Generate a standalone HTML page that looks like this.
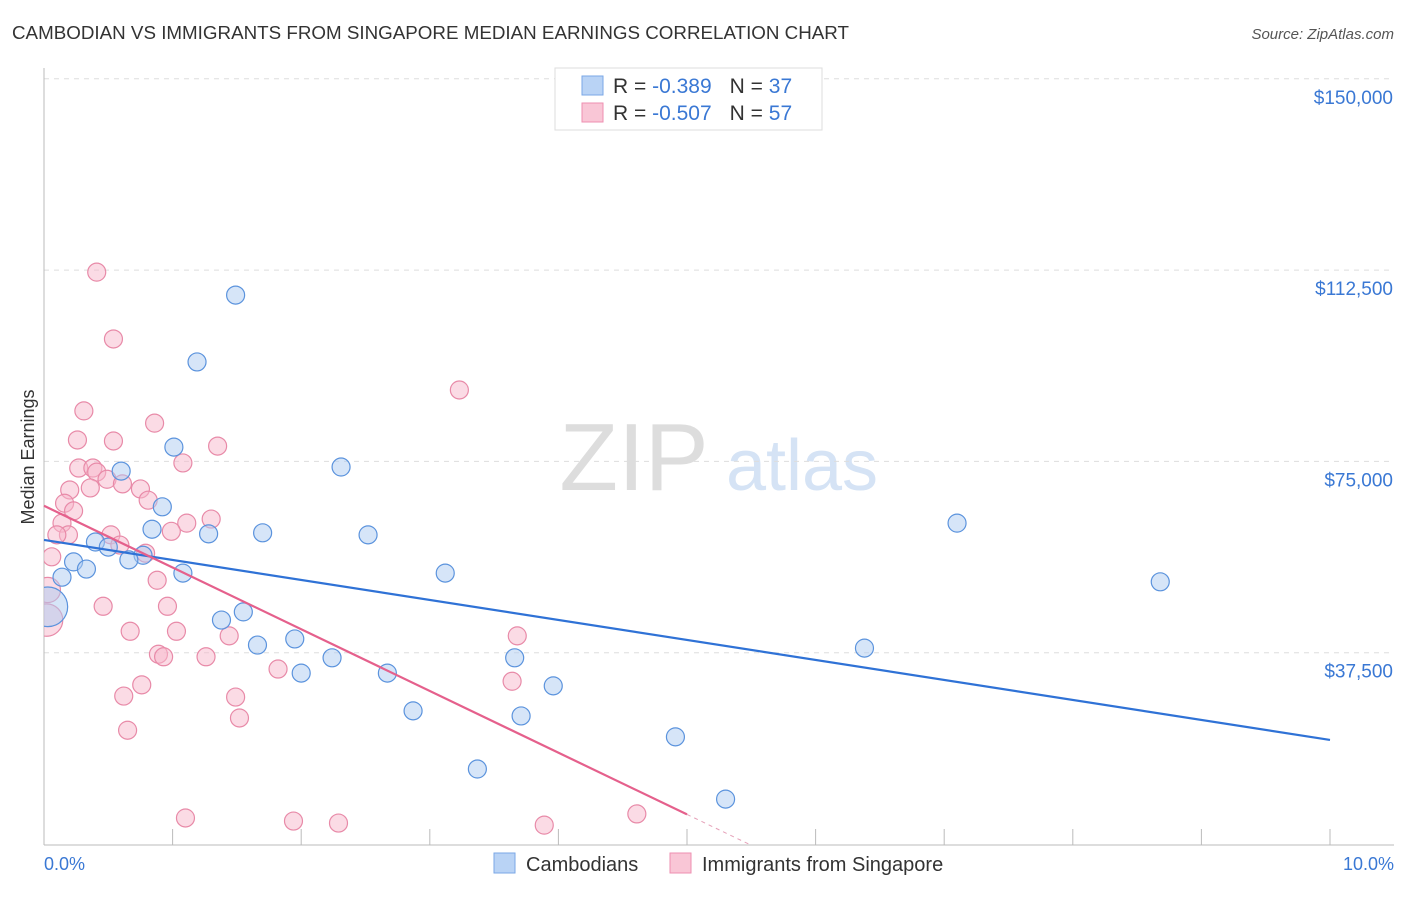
<!DOCTYPE html>
<html><head><meta charset="utf-8"><style>
body{margin:0;background:#fff;font-family:"Liberation Sans",sans-serif}
svg text{font-family:"Liberation Sans",sans-serif}
</style></head><body>
<svg id="chart" width="1406" height="892" xmlns="http://www.w3.org/2000/svg">
<text x="12" y="39" font-size="18" fill="#333" textLength="837" lengthAdjust="spacingAndGlyphs">CAMBODIAN VS IMMIGRANTS FROM SINGAPORE MEDIAN EARNINGS CORRELATION CHART</text>
<text x="1394" y="39" font-size="15" fill="#555" text-anchor="end" font-style="italic">Source: ZipAtlas.com</text>
<g>
<text x="634" y="490" font-size="96" fill="#ddd" text-anchor="middle" font-family="Liberation Serif">ZIP</text>
<text x="802" y="490" font-size="72" fill="#d5e3f5" text-anchor="middle">atlas</text>
</g>
<g id="grid"></g>
<g id="axes"></g>
<defs><clipPath id="plotclip"><rect x="44" y="60" width="1350" height="785"/></clipPath></defs>
<g id="pts" clip-path="url(#plotclip)"></g>
<g id="lines"></g>
<text transform="translate(34,457) rotate(-90)" font-size="18" fill="#333" text-anchor="middle">Median Earnings</text>
<text x="44" y="870" font-size="18" fill="#3a78d4">0.0%</text>
<text x="1394" y="870" font-size="18" fill="#3a78d4" text-anchor="end">10.0%</text>
<g>
<rect x="555" y="68" width="267" height="62" fill="#fff" stroke="#ddd"/>
<rect x="582" y="76" width="21" height="19" fill="#b9d3f5" stroke="#7aa7e6"/>
<rect x="582" y="103" width="21" height="19" fill="#f9c6d6" stroke="#ee8fb0"/>
<text x="613" y="93" font-size="21" fill="#333">R = <tspan fill="#3a78d4">-0.389</tspan><tspan dx="18">N = </tspan><tspan fill="#3a78d4">37</tspan></text>
<text x="613" y="120" font-size="21" fill="#333">R = <tspan fill="#3a78d4">-0.507</tspan><tspan dx="18">N = </tspan><tspan fill="#3a78d4">57</tspan></text>
</g>
<g>
<rect x="494" y="853" width="21" height="20" fill="#b9d3f5" stroke="#7aa7e6"/>
<text x="526" y="871" font-size="20" fill="#333">Cambodians</text>
<rect x="670" y="853" width="21" height="20" fill="#f9c6d6" stroke="#ee8fb0"/>
<text x="702" y="871" font-size="20" fill="#333">Immigrants from Singapore</text>
</g>
</svg>
<script>
const yTicks=[37500,75000,112500,150000];
const yTickLabels=["$37,500","$75,000","$112,500","$150,000"];
const blueX=[1.49,1.19,1.01,2.31,0.60,0.92,0.84,1.28,1.70,2.52,7.10,0.40,0.50,0.77,0.66,0.23,0.33,0.14,1.08,3.12,8.68,0.03,1.55,1.38,1.95,1.66,2.24,3.66,6.38,2.00,2.67,3.96,2.87,3.71,4.91,3.37,5.30];
const blueY=[107.6,94.5,77.8,73.9,73.1,66.1,61.7,60.8,61.0,60.6,62.9,59.2,58.2,56.6,55.7,55.3,53.9,52.3,53.1,53.1,51.4,46.5,45.5,43.9,40.2,39.0,36.5,36.5,38.4,33.5,33.5,31.0,26.1,25.1,21.0,14.7,8.8];
const blueSize=[1,1,1,1,1,1,1,1,1,1,1,1,1,1,1,1,1,1,1,1,1,2.2,1,1,1,1,1,1,1,1,1,1,1,1,1,1,1];
const pinkX=[0.41,0.54,3.23,0.31,0.86,0.26,0.54,1.35,1.08,0.27,0.38,0.41,0.49,0.61,0.36,0.75,0.20,0.81,0.16,0.23,1.30,1.11,0.14,0.99,0.52,0.19,0.10,0.59,0.79,0.06,0.88,0.03,0.46,0.96,0.02,0.67,1.03,1.44,3.68,0.89,0.93,1.26,1.82,0.76,0.62,1.49,3.64,1.52,0.65,1.10,1.94,2.29,3.89,4.61];
const pinkY=[112.1,99.0,89.0,84.9,82.5,79.2,79.0,78.0,74.7,73.7,73.7,72.9,71.5,70.6,69.8,69.6,69.4,67.4,66.8,65.3,63.7,62.9,62.9,61.3,60.6,60.6,60.6,58.6,57.0,56.3,51.7,49.8,46.6,46.6,43.9,41.7,41.7,40.8,40.8,37.2,36.7,36.7,34.3,31.2,29.0,28.8,31.9,24.7,22.3,5.1,4.5,4.1,3.7,5.9];
const pinkSize=[1,1,1,1,1,1,1,1,1,1,1,1,1,1,1,1,1,1,1,1,1,1,1,1,1,1,1,1,1,1,1,1.4,1,1,1.8,1,1,1,1,1,1,1,1,1,1,1,1,1,1,1,1,1,1,1];
const blueTrend=[59.6,20.4];
const pinkTrend=[66.3,-12.1];
const NS="http://www.w3.org/2000/svg";
const xs=p=>44+p*128.6;
const ys=v=>844-v*1000/37500*191.3;
function mk(tag,attrs,parent){const e=document.createElementNS(NS,tag);for(const k in attrs)e.setAttribute(k,attrs[k]);parent.appendChild(e);return e;}
const grid=document.getElementById('grid'),axes=document.getElementById('axes');
yTicks.forEach((t,i)=>{
 const l=mk('line',{x1:44,x2:1394,y1:ys(t/1000),y2:ys(t/1000),stroke:'#ddd','stroke-dasharray':'5,5'},grid);
 
 
 const tx=mk('text',{x:1393,y:ys(t/1000)+25,'font-size':19,fill:'#3a78d4','text-anchor':'end'},axes);
 tx.textContent=yTickLabels[i];
 
 
});
const ya=mk('line',{x1:44,x2:44,y1:68,y2:845,stroke:'#bbb'},axes);


const xa=mk('line',{x1:44,x2:1394,y1:845,y2:845,stroke:'#bbb'},axes);


for(let i=0;i<=10;i++){const t=mk('line',{x1:xs(i),x2:xs(i),y1:829,y2:845,stroke:'#bbb'},axes);
 
 }
const pts=document.getElementById('pts');
function plot(X,Y,S,fill,stroke,name){X.forEach((x,i)=>{
 const c=mk('circle',{cx:xs(x),cy:ys(Y[i]),r:9*S[i],fill:fill,stroke:stroke,'stroke-width':1.2,'fill-opacity':0.5},pts);
 
 });}
plot(pinkX,pinkY,pinkSize,'#f7b8cc','#e88aa8','singapore-point');
plot(blueX,blueY,blueSize,'#aecbf2','#5b93dd','cambodian-point');
const lines=document.getElementById('lines');
const bl=mk('line',{x1:xs(0),y1:ys(blueTrend[0]),x2:xs(10),y2:ys(blueTrend[1]),stroke:'#2f72d6','stroke-width':2.2},lines);


const pe=5.0,pz=-pinkTrend[0]/pinkTrend[1];
const pl=mk('line',{x1:xs(0),y1:ys(pinkTrend[0]),x2:xs(pe),y2:ys(pinkTrend[0]+pinkTrend[1]*pe),stroke:'#e5608c','stroke-width':2.2},lines);


const pd=mk('line',{x1:xs(pe),y1:ys(pinkTrend[0]+pinkTrend[1]*pe),x2:xs(pz),y2:ys(0),stroke:'#e5a0b8','stroke-width':1,'stroke-dasharray':'4,4'},lines);


</script>
</body></html>
